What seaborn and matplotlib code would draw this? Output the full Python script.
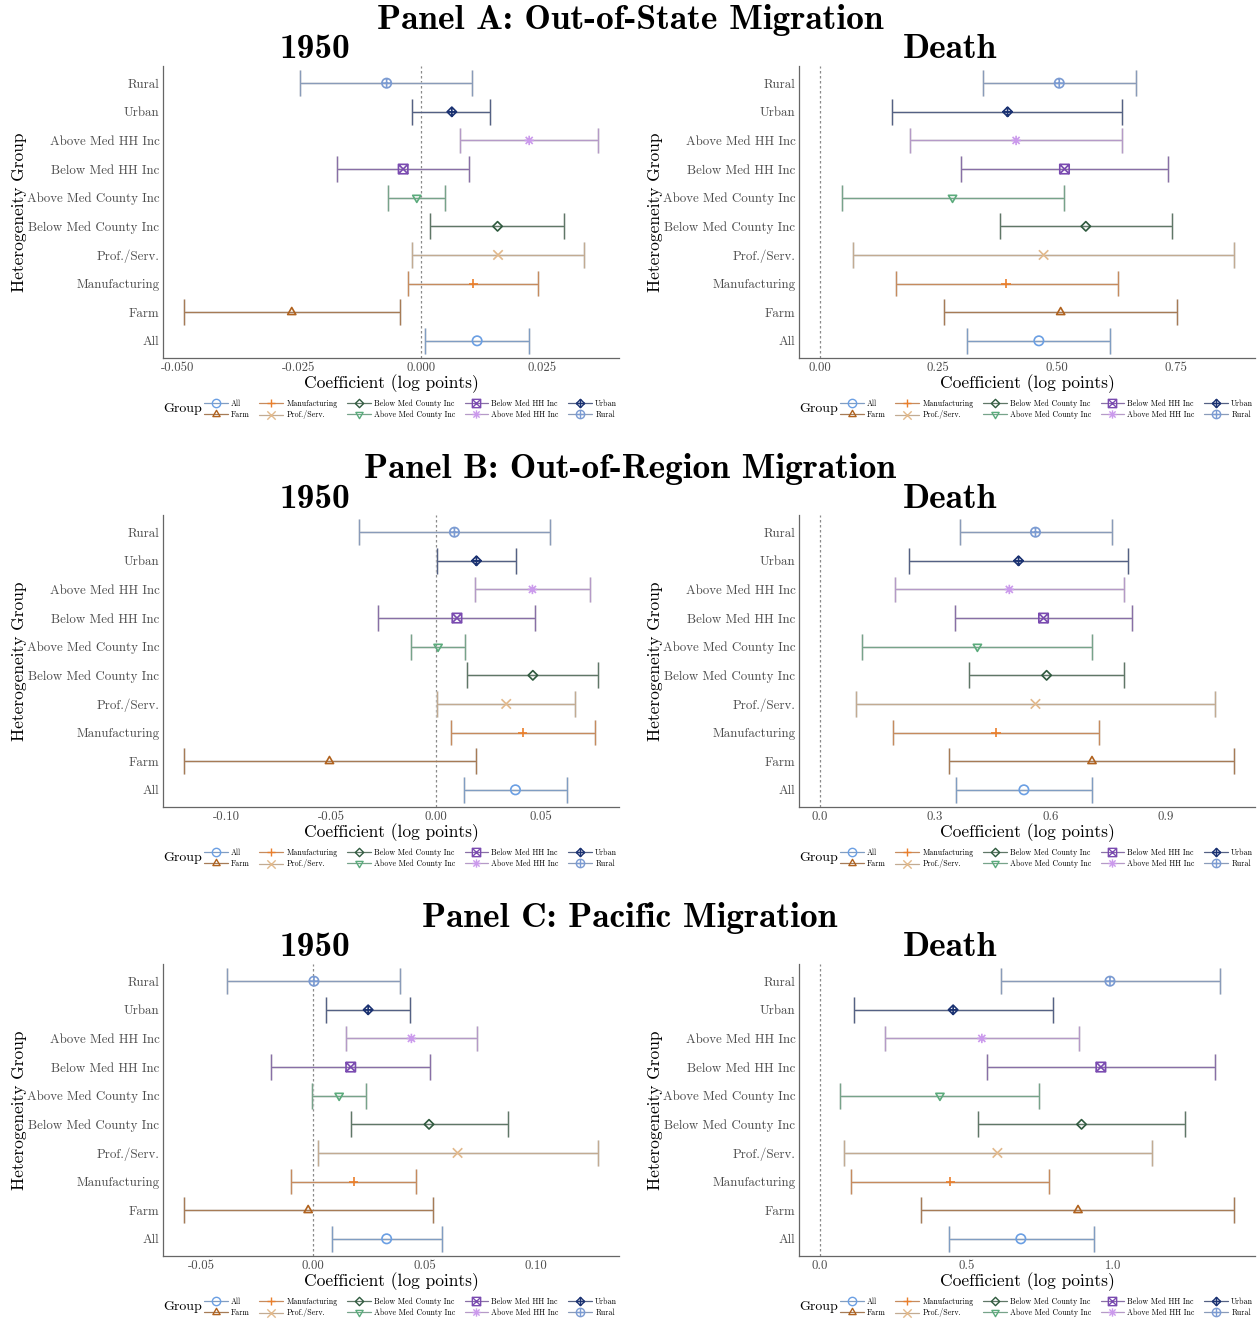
import numpy as np
import pandas as pd
import matplotlib
matplotlib.use("Agg")
import matplotlib.pyplot as plt
import seaborn as sns
from matplotlib.path import Path
from matplotlib.markers import MarkerStyle
from matplotlib.lines import Line2D
from matplotlib.colors import to_rgb

# ---------------------------------------------------------------- data
groups = ["All", "Farm", "Manufacturing", "Prof./Serv.",
          "Below Med County Inc", "Above Med County Inc",
          "Below Med HH Inc", "Above Med HH Inc", "Urban", "Rural"]

# Panel A: Out-of-State Migration
a_1950_est = [0.0116, -0.0265, 0.0108, 0.0159, 0.0158, -0.0008, -0.0036, 0.0223, 0.0064, -0.0070]
a_1950_lo = [0.0009, -0.0487, -0.0026, -0.0017, 0.0020, -0.0068, -0.0172, 0.0081, -0.0018, -0.0248]
a_1950_hi = [0.0223, -0.0042, 0.0241, 0.0336, 0.0295, 0.0050, 0.0099, 0.0365, 0.0143, 0.0106]
a_death_est = [0.462, 0.508, 0.393, 0.472, 0.561, 0.280, 0.516, 0.414, 0.396, 0.505]
a_death_lo = [0.311, 0.261, 0.160, 0.071, 0.381, 0.046, 0.298, 0.191, 0.153, 0.345]
a_death_hi = [0.613, 0.754, 0.628, 0.874, 0.742, 0.514, 0.735, 0.638, 0.638, 0.667]

# Panel B: Out-of-Region Migration
b_1950_est = [0.0379, -0.0508, 0.0414, 0.0335, 0.0462, 0.0010, 0.0100, 0.0460, 0.0193, 0.0088]
b_1950_lo = [0.0136, -0.1203, 0.0071, 0.0006, 0.0149, -0.0119, -0.0276, 0.0184, 0.0006, -0.0368]
b_1950_hi = [0.0625, 0.0192, 0.0759, 0.0665, 0.0774, 0.0138, 0.0473, 0.0736, 0.0383, 0.0546]
b_death_est = [0.531, 0.708, 0.458, 0.561, 0.590, 0.410, 0.582, 0.493, 0.517, 0.561]
b_death_lo = [0.355, 0.337, 0.190, 0.095, 0.387, 0.111, 0.353, 0.197, 0.233, 0.364]
b_death_hi = [0.707, 1.078, 0.726, 1.027, 0.792, 0.709, 0.811, 0.791, 0.801, 0.760]

# Panel C: Pacific Migration
c_1950_est = [0.0330, -0.0022, 0.0182, 0.0648, 0.0520, 0.0117, 0.0169, 0.0441, 0.0247, 0.0004]
c_1950_lo = [0.0083, -0.0580, -0.0099, 0.0020, 0.0169, -0.0004, -0.0187, 0.0149, 0.0059, -0.0384]
c_1950_hi = [0.0576, 0.0538, 0.0463, 0.1279, 0.0872, 0.0238, 0.0526, 0.0735, 0.0436, 0.0391]
c_death_est = [0.686, 0.881, 0.446, 0.606, 0.893, 0.410, 0.959, 0.553, 0.455, 0.990]
c_death_lo = [0.442, 0.347, 0.108, 0.084, 0.540, 0.070, 0.572, 0.221, 0.118, 0.619]
c_death_hi = [0.934, 1.414, 0.783, 1.133, 1.246, 0.749, 1.347, 0.886, 0.794, 1.364]

ticks_a_1950 = [-0.050, -0.025, 0.000, 0.025]
ticks_a_death = [0.00, 0.25, 0.50, 0.75]
ticks_b_1950 = [-0.10, -0.05, 0.00, 0.05]
ticks_b_death = [0.0, 0.3, 0.6, 0.9]
ticks_c_1950 = [-0.05, 0.00, 0.05, 0.10]
ticks_c_death = [0.0, 0.5, 1.0]

panel_titles = ["Panel A: Out-of-State Migration",
                "Panel B: Out-of-Region Migration",
                "Panel C: Pacific Migration"]
column_titles = ["1950", "Death"]

# ---------------------------------------------------------------- style
palette = {
    "All": "#6b9fe3",
    "Farm": "#b0621e",
    "Manufacturing": "#ea7f2c",
    "Prof./Serv.": "#e2b98c",
    "Below Med County Inc": "#2f5a3e",
    "Above Med County Inc": "#5bab7c",
    "Below Med HH Inc": "#7a4bb0",
    "Above Med HH Inc": "#cb9aec",
    "Urban": "#1b3272",
    "Rural": "#7b9bd2",
}


def blend(c, other="#9a9a9a", w=0.45):
    a = np.array(to_rgb(c))
    b = np.array(to_rgb(other))
    return tuple((1 - w) * a + w * b)


bar_colors = {g: blend(c) for g, c in palette.items()}

M, L, C = Path.MOVETO, Path.LINETO, Path.CLOSEPOLY
circle = Path.unit_circle()
tri_up = Path.unit_regular_polygon(3)
tri_down = Path(tri_up.vertices * [1, -1], tri_up.codes)
diamond = Path.unit_regular_polygon(4)
square = Path([(-1, -1), (1, -1), (1, 1), (-1, 1), (-1, -1)], [M, L, L, L, C])
plus = Path([(-1, 0), (1, 0), (0, -1), (0, 1)], [M, L, M, L])
cross = Path([(-0.75, -0.75), (0.75, 0.75), (-0.75, 0.75), (0.75, -0.75)], [M, L, M, L])
sq_cross = Path([(-1, -1), (1, 1), (-1, 1), (1, -1)], [M, L, M, L])
asterisk = Path.make_compound_path(plus, cross)
markers = {
    "All": circle,
    "Farm": tri_up,
    "Manufacturing": plus,
    "Prof./Serv.": Path(cross.vertices / 0.75, cross.codes),
    "Below Med County Inc": diamond,
    "Above Med County Inc": tri_down,
    "Below Med HH Inc": Path.make_compound_path(square, sq_cross),
    "Above Med HH Inc": asterisk,
    "Urban": Path.make_compound_path(diamond, plus),
    "Rural": Path.make_compound_path(circle, plus),
}
markers = {g: MarkerStyle(p) for g, p in markers.items()}

sns.set_theme(style="white")
plt.rcParams["font.family"] = ["cmr10", "DejaVu Serif"]
plt.rcParams["axes.unicode_minus"] = False
plt.rcParams["axes.formatter.use_mathtext"] = True
plt.rcParams["text.color"] = "black"

W, H = 1260, 1322
fig = plt.figure(figsize=(W / 100, H / 100), dpi=100)
fig.patch.set_facecolor("white")

TICK_COLOR = "#4d4d4d"
AXIS_COLOR = "#666666"
BOLD = ["cmb10", "DejaVu Serif"]


def draw_panel(ax, est, lo, hi, ticks, fmt):
    df = pd.DataFrame({"group": groups, "pos": np.arange(len(groups)),
                       "est": est, "lo": lo, "hi": hi})
    ax.axvline(0, color="#8a8a8a", lw=0.9, ls=(0, (2, 2)), zorder=1)
    cols = [bar_colors[g] for g in df["group"]]
    half = 0.45
    for lw, col, z, alpha in ((2.0, ["#dedede"] * len(df), 1.5, 0.55), (0.95, cols, 2, 1.0)):
        ax.hlines(df["pos"], df["lo"], df["hi"], colors=col, lw=lw, zorder=z, alpha=alpha)
        ax.vlines(df["lo"], df["pos"] - half, df["pos"] + half, colors=col, lw=lw, zorder=z, alpha=alpha)
        ax.vlines(df["hi"], df["pos"] - half, df["pos"] + half, colors=col, lw=lw, zorder=z, alpha=alpha)
    sns.scatterplot(data=df, x="est", y="pos", hue="group", style="group",
                    hue_order=groups, style_order=groups, palette=palette,
                    markers=markers, s=46, linewidth=1.2, legend=False,
                    ax=ax, zorder=3)
    coll = ax.collections[-1]
    fc = coll.get_facecolors()
    coll.set_edgecolors(fc)
    coll.set_facecolors("none")

    xmin = min(min(lo), 0.0)
    xmax = max(max(hi), 0.0)
    pad = 0.05 * (xmax - xmin)
    ax.set_xlim(xmin - pad, xmax + pad)
    ax.set_ylim(-0.6, len(groups) - 0.4)
    ax.set_yticks(df["pos"])
    ax.set_yticklabels(groups)
    ax.set_xticks(ticks)
    ax.set_xticklabels([fmt.format(t) for t in ticks])
    ax.tick_params(axis="both", length=0, labelsize=9.3, colors=TICK_COLOR, pad=2.5)
    ax.tick_params(axis="x", pad=3)
    for side in ("top", "right"):
        ax.spines[side].set_visible(False)
    for side in ("left", "bottom"):
        ax.spines[side].set_color(AXIS_COLOR)
        ax.spines[side].set_linewidth(0.9)
    ax.set_xlabel("Coefficient (log points)", fontsize=12.5, color="black", labelpad=0)
    ax.set_ylabel("Heterogeneity Group", fontsize=12.5, color="black")
    ax.yaxis.set_label_coords(-0.298, 0.5)
    ax.grid(False)
    ax.set_facecolor("white")

    handles = [Line2D([0], [0], color=bar_colors[g], lw=0.9,
                      marker=markers[g], markersize=6, markerfacecolor="none",
                      markeredgecolor=palette[g], markeredgewidth=1.0)
               for g in groups]
    leg = ax.legend(handles, groups, ncol=5, loc="center left",
                    bbox_to_anchor=(0.09, -0.176), frameon=False, fontsize=5.7,
                    handlelength=3.0, handletextpad=0.4, columnspacing=1.2,
                    labelspacing=0.3, borderaxespad=0, borderpad=0)
    for t in leg.get_texts():
        t.set_color("black")
    ax.text(0.0, -0.176, "Group", transform=ax.transAxes, fontsize=10,
            ha="left", va="center", color="black")


rows = [
    ((a_1950_est, a_1950_lo, a_1950_hi, ticks_a_1950, "{:.3f}"),
     (a_death_est, a_death_lo, a_death_hi, ticks_a_death, "{:.2f}")),
    ((b_1950_est, b_1950_lo, b_1950_hi, ticks_b_1950, "{:.2f}"),
     (b_death_est, b_death_lo, b_death_hi, ticks_b_death, "{:.1f}")),
    ((c_1950_est, c_1950_lo, c_1950_hi, ticks_c_1950, "{:.2f}"),
     (c_death_est, c_death_lo, c_death_hi, ticks_c_death, "{:.1f}")),
]

row_tops = [66, 515, 964]
row_h = 292
col_lefts = [163, 799]
col_w = 456
col_centers = [315, 950]

for r, (row, top) in enumerate(zip(rows, row_tops)):
    fig.text(0.5, 1 - (top - 46) / H, panel_titles[r], fontsize=25.5,
             family=BOLD, ha="center", va="center", color="black")
    for c, spec in enumerate(row):
        ax = fig.add_axes([col_lefts[c] / W, 1 - (top + row_h) / H, col_w / W, row_h / H])
        draw_panel(ax, *spec)
        fig.text(col_centers[c] / W, 1 - (top - 16) / H, column_titles[c], fontsize=25.5,
                 family=BOLD, ha="center", va="center", color="black")

fig.savefig("out.png", dpi=100, facecolor="white")
